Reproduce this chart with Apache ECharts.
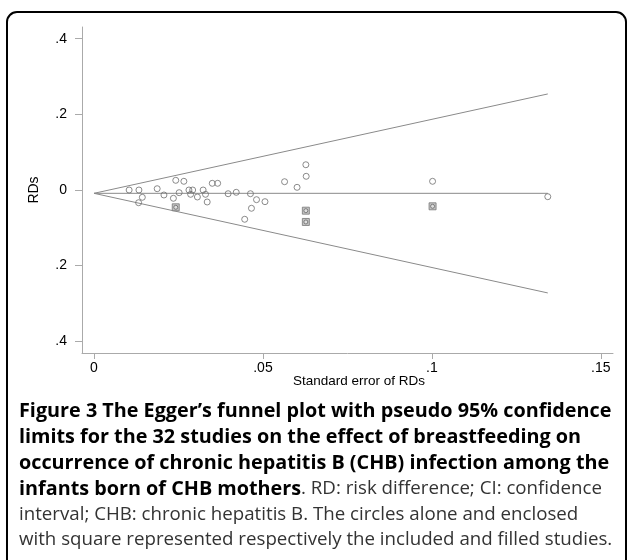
<!DOCTYPE html>
<html>
<head>
<meta charset="utf-8">
<script src="https://cdn.jsdelivr.net/npm/echarts@6/dist/echarts.min.js"></script>
<style>html,body{margin:0;padding:0;background:#fff;}#c{width:629px;height:560px;}</style>
</head>
<body>
<div id="c"></div>
<script>
// included studies (circles): [standard error, RD]
const studySE = [0.0104,0.0133,0.0132,0.0143,0.0187,0.0207,0.0235,0.0242,0.0266,0.0252,0.0281,0.0292,0.0286,0.0306,0.0323,0.0330,0.0335,0.0350,0.0366,0.0397,0.0421,0.0463,0.0481,0.0506,0.0466,0.0446,0.0564,0.0601,0.0627,0.0628,0.1002,0.1343];
const studyRD = [0.0000,0.0000,-0.0336,-0.0193,0.0034,-0.0132,-0.0219,0.0256,0.0230,-0.0071,0.0000,0.0000,-0.0114,-0.0185,0.0000,-0.0114,-0.0317,0.0177,0.0177,-0.0098,-0.0061,-0.0098,-0.0256,-0.0309,-0.0483,-0.0774,0.0219,0.0071,0.0668,0.0362,0.0230,-0.0177];
// filled studies (squares)
const filledSE = [0.0242,0.0627,0.0627,0.1002];
const filledRD = [-0.0457,-0.0547,-0.0845,-0.0431];
// pseudo 95% limits and pooled estimate, endpoints
const limitSE = [0, 0.1343];
const upperRD = [-0.0088, 0.2540];
const lowerRD = [-0.0088, -0.2722];
const pooledRD = [-0.0088, -0.0088];
// ticks
const xTicks = [0, 0.05, 0.1, 0.15];
const xTickLabels = ['0', '.05', '.1', '.15'];
const yTicks = [-0.4, -0.2, 0, 0.2, 0.4];
const yTickLabels = ['.4', '.2', '0', '.2', '.4'];

const pairs = (a, b) => a.map((v, i) => [v, b[i]]);
const lineStyle = {color: '#8a8a8a', width: 1};
const axisGray = '#aaaaaa';
const fontAx = 'Liberation Sans, Arial, sans-serif';

const chart = echarts.init(document.getElementById('c'), null, {renderer: 'canvas'});
const capFont = '"Open Sans", sans-serif';
const capX = 19;
const boldFont = 'bold 19.8px ' + capFont;
const regFont = '18.7px ' + capFont;
chart.setOption({
  animation: false,
  grid: {left: 82, right: 16, top: 27, bottom: 207, containLabel: false},
  xAxis: {
    type: 'value', min: -0.00355, max: 0.1536,
    name: 'Standard error of RDs', nameLocation: 'middle', nameGap: 21, nameMoveOverlap: false,
    nameTextStyle: {color: '#000', fontSize: 13.5, fontFamily: fontAx, padding: [0, 0, 0, 23]},
    axisLine: {show: true, onZero: false, lineStyle: {color: axisGray, width: 1}},
    axisTick: {show: true, length: 6, lineStyle: {color: axisGray}, customValues: xTicks},
    axisLabel: {color: '#000', fontSize: 14, fontFamily: fontAx, margin: 8, customValues: xTicks,
      formatter: v => { const i = xTicks.findIndex(t => Math.abs(t - v) < 1e-9); return i >= 0 ? xTickLabels[i] : ''; }},
    splitLine: {show: false}
  },
  yAxis: {
    type: 'value', min: -0.431, max: 0.431,
    name: 'RDs', nameLocation: 'middle', nameGap: 41, nameRotate: 90,
    nameTextStyle: {color: '#000', fontSize: 14, fontFamily: fontAx},
    axisLine: {show: true, onZero: false, lineStyle: {color: axisGray, width: 1}},
    axisTick: {show: true, length: 7, lineStyle: {color: axisGray}, customValues: yTicks},
    axisLabel: {color: '#000', fontSize: 14, fontFamily: fontAx, margin: 15, customValues: yTicks,
      formatter: v => { const i = yTicks.findIndex(t => Math.abs(t - v) < 1e-9); return i >= 0 ? yTickLabels[i] : ''; }},
    splitLine: {show: false}
  },
  series: [
    {type: 'line', data: pairs(limitSE, upperRD), symbol: 'none', lineStyle, z: 2},
    {type: 'line', data: pairs(limitSE, lowerRD), symbol: 'none', lineStyle, z: 2},
    {type: 'line', data: pairs(limitSE, pooledRD), symbol: 'none', lineStyle, z: 2},
    {type: 'scatter', data: pairs(filledSE, filledRD), symbol: 'rect', symbolSize: 7,
      itemStyle: {color: '#b5b5b5', borderColor: '#777', borderWidth: 1}, z: 3},
    {type: 'scatter', data: pairs(filledSE, filledRD), symbol: 'circle', symbolSize: 4,
      itemStyle: {color: '#e6e6e6', borderColor: '#666', borderWidth: 1}, z: 4},
    {type: 'scatter', data: pairs(studySE, studyRD), symbol: 'circle', symbolSize: 6,
      itemStyle: {color: 'rgba(255,255,255,0)', borderColor: '#6e6e6e', borderWidth: 1}, z: 4}
  ],
  graphic: [
    {type: 'rect', shape: {x: 7, y: 12, width: 619, height: 600, r: 10}, style: {fill: 'none', stroke: '#000', lineWidth: 2}, silent: true, z: 0},
    {type: 'text', x: capX, y: 411, style: {text: 'Figure 3 The Egger\u2019s funnel plot with pseudo 95% confidence', font: boldFont, fill: '#000', verticalAlign: 'middle'}},
    {type: 'text', x: capX, y: 437, style: {text: 'limits for the 32 studies on the effect of breastfeeding on', font: boldFont, fill: '#000', verticalAlign: 'middle'}},
    {type: 'text', x: capX, y: 463, style: {text: 'occurrence of chronic hepatitis B (CHB) infection among the', font: boldFont, fill: '#000', verticalAlign: 'middle'}},
    {type: 'text', x: capX, y: 489, style: {text: '{b|infants born of CHB mothers}{r|. RD: risk difference; CI: confidence}', verticalAlign: 'middle',
      rich: {b: {font: boldFont, fill: '#000'}, r: {font: regFont, fill: '#333'}}}},
    {type: 'text', x: capX, y: 515, style: {text: 'interval; CHB: chronic hepatitis B. The circles alone and enclosed', font: regFont, fill: '#333', verticalAlign: 'middle'}},
    {type: 'text', x: capX, y: 540, style: {text: 'with square represented respectively the included and filled studies.', font: regFont, fill: '#333', verticalAlign: 'middle'}}
  ]
});
</script>
</body>
</html>
